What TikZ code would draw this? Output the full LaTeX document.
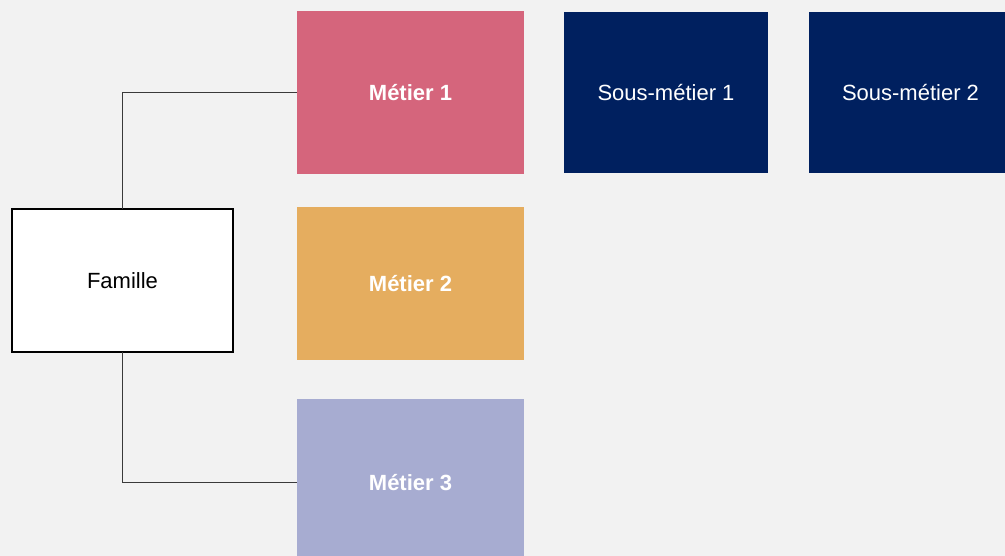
\documentclass[tikz,border=0pt]{standalone}
\usepackage{fontspec}
\setmainfont{Liberation Sans}
\usepackage{tikz}
\definecolor{fond}{HTML}{F2F2F2}
\definecolor{rose}{HTML}{D5657C}
\definecolor{ocre}{HTML}{E5AD5F}
\definecolor{lavande}{HTML}{A7ACD1}
\definecolor{marine}{HTML}{00205F}
\definecolor{trait}{HTML}{3A3A3A}
\tikzset{
  metier/.style={minimum width=227pt, inner sep=0pt, outer sep=0pt, text=white, font=\bfseries\fontsize{22}{26}\selectfont},
  sousmetier/.style={fill=marine, minimum height=161pt, inner sep=0pt, outer sep=0pt, text=white, font=\fontsize{22}{26}\selectfont},
  famille/.style={draw=black, line width=1.6pt, fill=white, minimum width=221pt, minimum height=143pt, inner sep=0pt, outer sep=0pt, font=\fontsize{22}{26}\selectfont},
  lien/.style={draw=trait, line width=1pt}
}

\begin{document}
\begin{tikzpicture}[x=1pt, y=-1pt]

    \useasboundingbox (0,0) rectangle (1005,556);
    \fill [fond] (0,0) rectangle (1005,556);

    \node [famille] (fam) at (122.5, 280.5) {Famille};

    \foreach \i/\y/\h/\c in {1/92.5/163/rose, 2/283.5/153/ocre, 3/482.5/167/lavande}
        \node [metier, fill=\c, minimum height=\h pt] (m\i) at (410.5, \y) {Métier \i};

    \foreach \i/\x/\w in {1/666/204, 2/910.5/203}
        \node [sousmetier, minimum width=\w pt] (s\i) at (\x, 93) {Sous-métier \i};

    \draw [lien] (fam.north) |- (m1.west);
    \draw [lien] (fam.south) |- (m3.west);

\end{tikzpicture}
\end{document}
